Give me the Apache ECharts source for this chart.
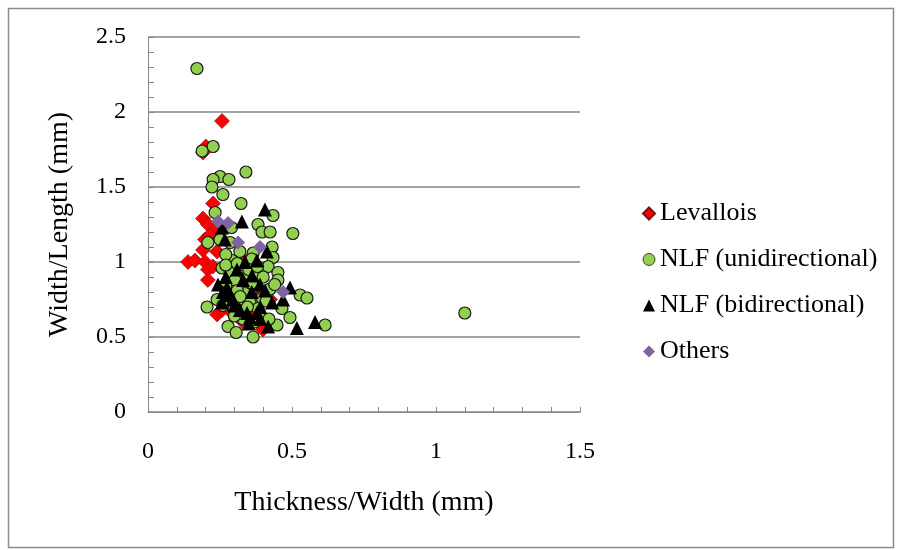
<!DOCTYPE html>
<html>
<head>
<meta charset="utf-8">
<script src="https://cdn.jsdelivr.net/npm/echarts@6/dist/echarts.min.js"></script>
<style>
  html, body { margin: 0; padding: 0; background: #fff; }
  #main { width: 901px; height: 550px; }
</style>
</head>
<body>
<div id="main"></div>
<script>
// series names (legend order)
var seriesNames = ['Levallois', 'NLF (unidirectional)', 'NLF (bidirectional)', 'Others'];

// [thickness/width, width/length]
var levallois = [
  [0.257,1.94],[0.191,1.73],[0.201,1.77],[0.226,1.39],[0.191,1.29],[0.208,1.25],
  [0.233,1.21],[0.198,1.15],[0.191,1.08],[0.240,1.07],[0.139,1.00],[0.163,1.01],
  [0.198,1.00],[0.208,0.95],[0.208,0.88],[0.271,0.81],[0.378,0.83],[0.337,1.01],
  [0.424,0.75],[0.240,0.65],[0.257,0.68],[0.292,0.66],[0.365,0.66],[0.399,0.55],
  [0.330,0.60],[0.215,1.18],[0.225,0.97]
];
var nlfUni = [
  [0.170,2.29],[0.226,1.77],[0.188,1.74],[0.340,1.60],[0.250,1.57],[0.281,1.55],
  [0.226,1.55],[0.222,1.50],[0.260,1.45],[0.323,1.39],[0.233,1.33],[0.434,1.31],
  [0.382,1.25],[0.396,1.20],[0.424,1.20],[0.503,1.19],[0.208,1.13],[0.250,1.15],
  [0.285,1.13],[0.431,1.10],[0.319,1.07],[0.365,1.06],[0.434,1.03],[0.292,1.01],
  [0.257,0.96],[0.285,0.93],[0.344,0.90],[0.417,0.97],[0.451,0.93],[0.451,0.88],
  [0.302,0.88],[0.365,0.83],[0.337,0.79],[0.396,0.76],[0.240,0.75],[0.302,0.75],
  [0.354,0.73],[0.205,0.70],[0.319,0.68],[0.382,0.69],[0.465,0.69],[0.493,0.63],
  [0.278,0.57],[0.306,0.53],[0.365,0.50],[0.448,0.58],[0.528,0.78],[0.552,0.76],
  [0.615,0.58],[1.100,0.66],[0.424,0.82],[0.333,0.98],[0.375,0.93],[0.360,0.86],
  [0.270,0.84],[0.310,0.81],[0.390,0.64],[0.330,0.62],[0.410,0.74],[0.290,1.23],
  [0.360,1.02],[0.270,1.05],[0.290,0.71],[0.320,0.77],[0.350,0.95],[0.400,0.90],
  [0.270,0.98],[0.310,0.99],[0.380,0.97],[0.345,0.70],[0.420,0.62],[0.300,0.64],
  [0.370,0.60],[0.260,0.71],[0.440,0.85]
];
var nlfBi = [
  [0.406,1.35],[0.326,1.27],[0.257,1.23],[0.267,1.15],[0.413,1.07],[0.337,1.00],
  [0.378,1.01],[0.309,0.95],[0.361,0.91],[0.243,0.85],[0.274,0.83],[0.389,0.85],
  [0.406,0.81],[0.493,0.83],[0.257,0.73],[0.295,0.75],[0.431,0.73],[0.469,0.75],
  [0.319,0.68],[0.344,0.66],[0.378,0.66],[0.354,0.63],[0.417,0.57],[0.517,0.56],
  [0.580,0.60],[0.260,0.80],[0.390,0.70],[0.280,0.78],[0.330,0.88],[0.360,0.80],
  [0.300,0.71],[0.350,0.59],[0.390,0.62],[0.270,0.90]
];
var others = [
  [0.243,1.27],[0.278,1.26],[0.313,1.13],[0.389,1.10],[0.469,0.80]
];

var serif = 'Liberation Serif';
var axisGrey = '#868686';

var chart = echarts.init(document.getElementById('main'));
chart.setOption({
  animation: false,
  backgroundColor: '#fff',
  graphic: [{
    type: 'rect',
    shape: { x: 8.5, y: 8.5, width: 885, height: 539 },
    style: { fill: 'none', stroke: '#8c8c8c', lineWidth: 1.5 }
  }],
  grid: { left: 148, right: 321, top: 37, bottom: 138 },
  legend: {
    orient: 'vertical',
    left: 637,
    top: 195,
    itemGap: 19,
    itemWidth: 12,
    itemHeight: 12,
    textStyle: { fontFamily: serif, fontSize: 26, color: '#000', lineHeight: 27 },
    data: [
      { name: seriesNames[0], icon: 'diamond' },
      { name: seriesNames[1], icon: 'circle', itemStyle: { borderWidth: 0.8 } },
      { name: seriesNames[2], icon: 'triangle' },
      { name: seriesNames[3], icon: 'diamond' }
    ]
  },
  xAxis: {
    type: 'value',
    min: 0, max: 1.5, interval: 0.5,
    name: 'Thickness/Width (mm)',
    nameLocation: 'middle',
    nameGap: 77,
    nameTextStyle: { fontFamily: serif, fontSize: 28, color: '#000' },
    axisLine: { show: true, lineStyle: { color: axisGrey, width: 1 } },
    axisTick: { show: true, inside: true, length: 5, lineStyle: { color: axisGrey } },
    minorTick: { show: true, splitNumber: 5, length: 5, lineStyle: { color: axisGrey } },
    axisLabel: { fontFamily: serif, fontSize: 24, color: '#000', margin: 28 },
    splitLine: { show: false }
  },
  yAxis: {
    type: 'value',
    min: 0, max: 2.5, interval: 0.5,
    name: 'Width/Length (mm)',
    nameLocation: 'middle',
    nameGap: 74,
    nameTextStyle: { fontFamily: serif, fontSize: 28, color: '#000' },
    axisLine: { show: true, lineStyle: { color: axisGrey, width: 1 } },
    axisTick: { show: true, inside: true, length: 6, lineStyle: { color: axisGrey } },
    minorTick: { show: true, splitNumber: 5, length: 6, lineStyle: { color: axisGrey } },
    axisLabel: { fontFamily: serif, fontSize: 24, color: '#000', margin: 22 },
    splitLine: { show: true, lineStyle: { color: axisGrey, width: 1.5 } }
  },
  series: [
    {
      name: seriesNames[0], type: 'scatter', data: levallois,
      symbol: 'diamond', symbolSize: 15,
      itemStyle: { color: '#ff0000', borderColor: '#7a1010', borderWidth: 0.6, opacity: 1 }
    },
    {
      name: seriesNames[1], type: 'scatter', data: nlfUni,
      symbol: 'circle', symbolSize: 12,
      itemStyle: { color: '#92d050', borderColor: '#1a1a1a', borderWidth: 1.2, opacity: 1 }
    },
    {
      name: seriesNames[2], type: 'scatter', data: nlfBi,
      symbol: 'triangle', symbolSize: 14,
      itemStyle: { color: '#000000', opacity: 1 }
    },
    {
      name: seriesNames[3], type: 'scatter', data: others,
      symbol: 'diamond', symbolSize: 14,
      itemStyle: { color: '#8064a2', opacity: 1 }
    }
  ]
});
</script>
</body>
</html>
